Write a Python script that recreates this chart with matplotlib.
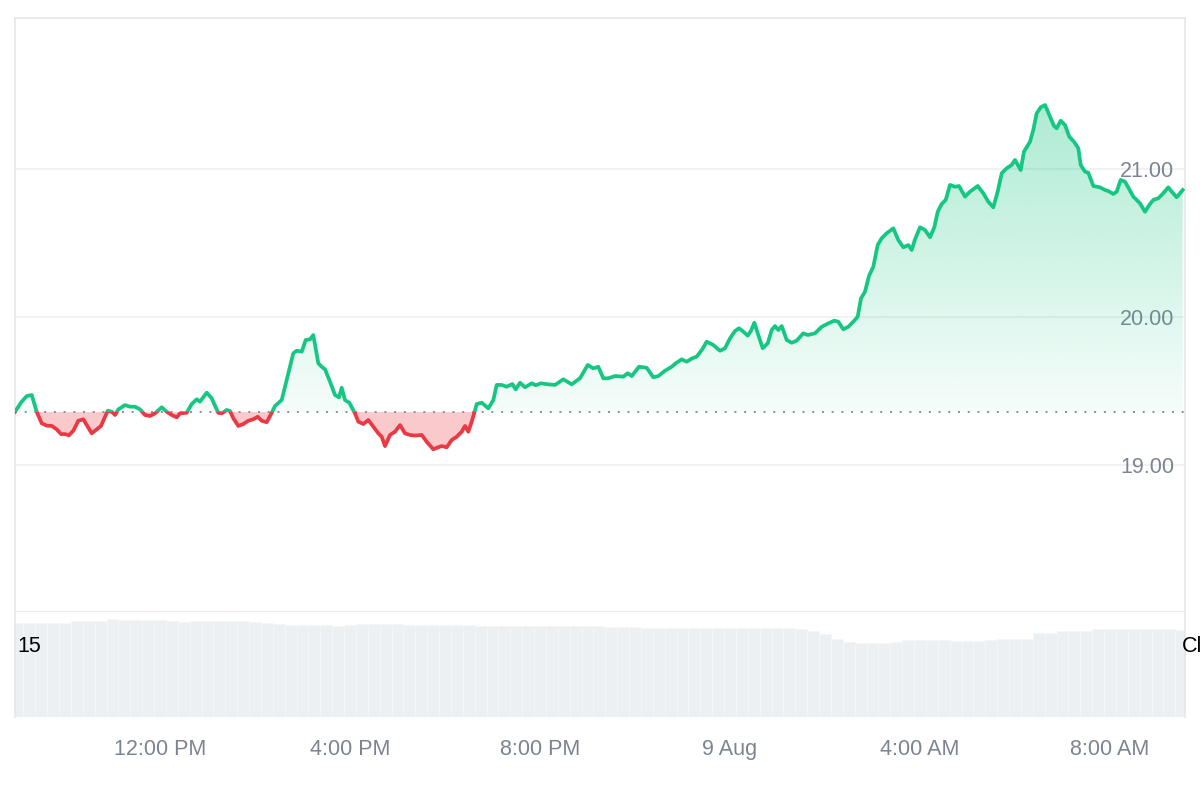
import matplotlib.pyplot as plt
import numpy as np
from matplotlib.patches import Rectangle
from matplotlib.path import Path

# hours relative to 12:00 PM, 8 Aug
times = [-3.053, -2.912, -2.806, -2.701, -2.596, -2.491, -2.385, -2.280, -2.175, -2.084,
         -2.000, -1.916, -1.825, -1.720, -1.615, -1.543, -1.438, -1.333, -1.242, -1.158,
         -1.101, -1.017, -0.947, -0.878, -0.737, -0.632, -0.526, -0.421, -0.316, -0.211,
         -0.105, 0.036, 0.141, 0.246, 0.352, 0.421, 0.562, 0.667, 0.773, 0.842,
         0.983, 1.088, 1.158, 1.227, 1.299, 1.404, 1.474, 1.543, 1.648, 1.754,
         1.859, 1.964, 2.057, 2.141, 2.246, 2.352, 2.421, 2.562, 2.667, 2.806,
         2.878, 2.983, 3.067, 3.158, 3.227, 3.333, 3.404, 3.474, 3.579, 3.684,
         3.768, 3.825, 3.895, 3.985, 4.105, 4.175, 4.280, 4.385, 4.491, 4.596,
         4.667, 4.737, 4.842, 4.947, 5.053, 5.158, 5.263, 5.368, 5.509, 5.615,
         5.754, 5.859, 5.931, 6.036, 6.141, 6.246, 6.352, 6.421, 6.491, 6.562,
         6.617, 6.667, 6.773, 6.912, 7.017, 7.088, 7.194, 7.299, 7.417, 7.488,
         7.579, 7.684, 7.825, 7.909, 8.021, 8.175, 8.316, 8.491, 8.667, 8.842,
         9.004, 9.122, 9.227, 9.333, 9.438, 9.579, 9.754, 9.846, 9.931, 10.084,
         10.246, 10.385, 10.491, 10.632, 10.773, 10.857, 10.983, 11.088, 11.206, 11.299,
         11.417, 11.509, 11.649, 11.789, 11.895, 12.000, 12.105, 12.189, 12.280, 12.373,
         12.442, 12.512, 12.596, 12.688, 12.794, 12.878, 12.947, 13.017, 13.088, 13.194,
         13.299, 13.404, 13.543, 13.636, 13.789, 13.931, 14.069, 14.196, 14.280, 14.385,
         14.491, 14.596, 14.688, 14.758, 14.842, 14.926, 15.017, 15.109, 15.193, 15.299,
         15.438, 15.543, 15.649, 15.754, 15.825, 15.895, 16.000, 16.105, 16.211, 16.301,
         16.373, 16.457, 16.541, 16.632, 16.737, 16.821, 16.947, 17.053, 17.215, 17.333,
         17.438, 17.543, 17.636, 17.720, 17.825, 17.930, 18.000, 18.120, 18.189, 18.316,
         18.385, 18.457, 18.541, 18.632, 18.722, 18.821, 18.878, 18.962, 19.053, 19.143,
         19.242, 19.333, 19.383, 19.474, 19.543, 19.649, 19.789, 19.895, 19.964, 20.070,
         20.141, 20.225, 20.316, 20.406, 20.491, 20.632, 20.737, 20.827, 20.912, 21.017,
         21.122, 21.227, 21.299, 21.404, 21.530]

prices = [19.360, 19.428, 19.466, 19.473, 19.360, 19.282, 19.266, 19.264, 19.241, 19.209,
          19.209, 19.201, 19.232, 19.299, 19.309, 19.270, 19.214, 19.241, 19.264, 19.326,
          19.367, 19.360, 19.338, 19.376, 19.405, 19.394, 19.394, 19.376, 19.338, 19.331,
          19.349, 19.390, 19.360, 19.338, 19.322, 19.349, 19.353, 19.412, 19.444, 19.428,
          19.489, 19.451, 19.400, 19.353, 19.349, 19.372, 19.365, 19.316, 19.264, 19.277,
          19.299, 19.309, 19.326, 19.299, 19.289, 19.353, 19.399, 19.439, 19.574, 19.755,
          19.772, 19.766, 19.845, 19.849, 19.878, 19.687, 19.664, 19.647, 19.563, 19.473,
          19.457, 19.522, 19.439, 19.421, 19.349, 19.293, 19.277, 19.304, 19.259, 19.214,
          19.191, 19.128, 19.203, 19.225, 19.270, 19.214, 19.203, 19.199, 19.203, 19.157,
          19.106, 19.120, 19.128, 19.120, 19.169, 19.191, 19.225, 19.264, 19.225, 19.293,
          19.353, 19.412, 19.421, 19.383, 19.439, 19.541, 19.541, 19.529, 19.547, 19.511,
          19.556, 19.525, 19.552, 19.539, 19.552, 19.545, 19.541, 19.579, 19.545, 19.586,
          19.676, 19.653, 19.664, 19.586, 19.586, 19.601, 19.597, 19.620, 19.601, 19.664,
          19.657, 19.593, 19.601, 19.637, 19.664, 19.687, 19.714, 19.698, 19.721, 19.732,
          19.782, 19.833, 19.811, 19.772, 19.789, 19.856, 19.905, 19.924, 19.901, 19.874,
          19.907, 19.961, 19.878, 19.789, 19.822, 19.912, 19.939, 19.912, 19.939, 19.845,
          19.826, 19.840, 19.890, 19.878, 19.890, 19.934, 19.957, 19.975, 19.968, 19.917,
          19.934, 19.968, 20.002, 20.126, 20.171, 20.277, 20.340, 20.486, 20.532, 20.566,
          20.599, 20.520, 20.471, 20.486, 20.453, 20.525, 20.606, 20.588, 20.539, 20.606,
          20.711, 20.764, 20.791, 20.892, 20.880, 20.885, 20.813, 20.847, 20.885, 20.836,
          20.779, 20.741, 20.847, 20.971, 21.005, 21.027, 21.061, 20.993, 21.117, 21.184,
          21.264, 21.376, 21.417, 21.432, 21.365, 21.291, 21.275, 21.326, 21.297, 21.218,
          21.184, 21.140, 21.027, 20.982, 20.975, 20.885, 20.876, 20.858, 20.851, 20.831,
          20.847, 20.926, 20.914, 20.863, 20.813, 20.768, 20.711, 20.757, 20.791, 20.802,
          20.836, 20.876, 20.847, 20.809, 20.858]

baseline = 19.358

# volume bars, one every 15 minutes starting at 9:00 AM (relative units)
vol_start = -3.0
vol_step = 0.25
volumes = [94, 94, 94, 94, 94, 96, 96, 96, 98, 97, 97, 97, 97, 96, 95, 96, 96, 96, 96, 96,
           95, 94, 93, 92, 92, 92, 92, 91, 92, 93, 93, 93, 93, 92, 92, 92, 92, 92, 92, 91,
           91, 91, 91, 91, 91, 91, 91, 91, 91, 91, 90, 90, 90, 89, 89, 89, 89, 89, 89, 89,
           89, 89, 89, 89, 89, 89, 88, 86, 83, 78, 75, 74, 74, 74, 75, 77, 77, 77, 77, 76,
           76, 76, 77, 78, 78, 78, 84, 84, 86, 86, 86, 88, 88, 88, 88, 88, 88, 88, 87]

price_ticks = [19.0, 20.0, 21.0]
price_labels = ["19.00", "20.00", "21.00"]
time_ticks = [0, 4, 8, 12, 16, 20]
time_labels = ["12:00 PM", "4:00 PM", "8:00 PM", "9 Aug", "4:00 AM", "8:00 AM"]

green = "#16c784"
red = "#ea3943"
border = "#e4e6ea"
label_gray = "#7d8491"
plt.rcParams["font.family"] = ["Liberation Sans", "DejaVu Sans"]

fig = plt.figure(figsize=(12, 8), dpi=100)
ax = fig.add_axes([15 / 1200, 1 - 612 / 800, 1170 / 1200, 594 / 800])
axv = fig.add_axes([15 / 1200, 1 - 717 / 800, 1170 / 1200, 105 / 800])

t = np.array(times)
p = np.array(prices)
xmin, xmax = -3.053, 21.579
ymin, ymax = 18.007, 22.02

# fills
ax.fill_between(t, p, baseline, where=p < baseline, interpolate=True,
                color=red, alpha=0.27, linewidth=0, zorder=1)
gfill = ax.fill_between(t, p, baseline, where=p >= baseline, interpolate=True,
                        color="none", linewidth=0, zorder=1)
clip = Path.make_compound_path(*gfill.get_paths())
top = 21.5
grad = np.zeros((256, 1, 4))
grad[:, 0, :3] = np.array([22, 199, 132]) / 255
grad[:, 0, 3] = np.linspace(0.36, 0.04, 256)
img = ax.imshow(grad, extent=[xmin, xmax, baseline, top], aspect="auto",
                origin="upper", zorder=1, interpolation="bilinear")
img.set_clip_path(clip, transform=ax.transData)

# line, green above baseline, red below
lg, = ax.plot(t, p, color=green, lw=2.7, zorder=3, solid_joinstyle="round")
lr, = ax.plot(t, p, color=red, lw=2.7, zorder=3, solid_joinstyle="round")
lg.set_clip_path(Rectangle((xmin, baseline), xmax - xmin, ymax - baseline,
                           transform=ax.transData))
lr.set_clip_path(Rectangle((xmin, ymin), xmax - xmin, baseline - ymin,
                           transform=ax.transData))

ax.axhline(baseline, color="#8a8f98", lw=1.4, linestyle=(0, (1, 4)), zorder=2)

ax.set_xlim(xmin, xmax)
ax.set_ylim(ymin, ymax)
ax.set_yticks(price_ticks)
ax.set_yticklabels(price_labels)
ax.yaxis.tick_right()
ax.tick_params(axis="y", length=0, pad=-8, labelsize=15.5, labelcolor=label_gray)
for lab in ax.get_yticklabels():
    lab.set_horizontalalignment("right")
ax.set_xticks([])
ax.grid(axis="y", color="#eeeff1", lw=1.2, zorder=0)
ax.set_axisbelow(True)
for s in ax.spines.values():
    s.set_color(border)
    s.set_linewidth(1.2)

# volume panel
vt = vol_start + vol_step * np.arange(len(volumes))
axv.bar(vt, volumes, width=vol_step, color="#edf0f3", edgecolor="#f5f6f8", linewidth=0.6)
axv.set_xlim(xmin, xmax)
axv.set_ylim(0, 105)
axv.set_yticks([])
axv.set_xticks(time_ticks)
axv.set_xticklabels(time_labels)
axv.tick_params(axis="x", length=0, pad=16, labelsize=15.5, labelcolor=label_gray)
for s in axv.spines.values():
    s.set_color(border)
    s.set_linewidth(1.2)
axv.spines["bottom"].set_visible(False)
axv.spines["top"].set_visible(False)

fig.text(17 / 1200, 1 - 646 / 800, "15", ha="left", va="center", fontsize=15.5, color="black")
fig.text(1182 / 1200, 1 - 646 / 800, "Cl", ha="left", va="center", fontsize=15.5, color="black")

fig.savefig("out.png", dpi=100, facecolor="white")
